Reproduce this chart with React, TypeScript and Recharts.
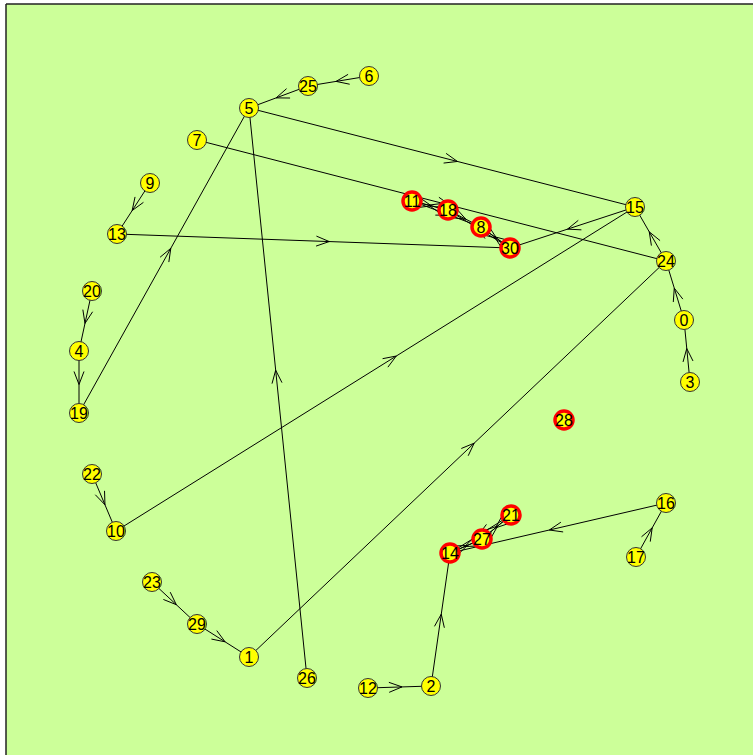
import { CartesianGrid, ReferenceLine, Scatter, ScatterChart, XAxis, YAxis } from "recharts";

// node layout, index = node id
const nodeX = [684, 249, 431, 690, 79, 249, 369, 197, 481, 150, 116, 412, 368, 117, 450, 635, 666, 636, 448, 79, 92, 511, 92, 152, 666, 308, 307, 482, 564, 197, 510];
const nodeY = [320, 657, 686, 382, 351, 108, 76, 140, 227, 183, 531, 201, 688, 234, 553, 207, 503, 557, 210, 413, 291, 515, 474, 582, 261, 86, 678, 539, 420, 624, 248];

// nodes that sit on a cycle (red ring)
const cycleNodes = [8, 11, 14, 18, 21, 27, 28, 30];

// directed edges
const edgeFrom = [6, 25, 5, 7, 9, 13, 20, 4, 19, 22, 10, 23, 29, 1, 26, 12, 2, 16, 17, 3, 0, 24, 15, 18, 11, 11, 18, 8, 30, 30, 14, 27, 27, 21, 21];
const edgeTo = [25, 5, 15, 24, 13, 30, 4, 19, 5, 10, 15, 29, 1, 24, 5, 2, 14, 14, 16, 0, 24, 15, 30, 11, 18, 8, 8, 30, 8, 18, 27, 14, 21, 27, 14];

const nodes = nodeX.map((x, i) => ({
  id: i,
  x,
  y: nodeY[i],
  cycle: cycleNodes.includes(i),
}));

function EdgeLine(props: any) {
  const pts = props.points;
  if (!pts || pts.length < 2) return null;
  const a = pts[0];
  const b = pts[1];
  const dx = b.x - a.x;
  const dy = b.y - a.y;
  const len = Math.hypot(dx, dy) || 1;
  const ux = dx / len;
  const uy = dy / len;
  const tx = a.x + dx * 0.54;
  const ty = a.y + dy * 0.54;
  const L = 13;
  const W = 5;
  const bx = tx - ux * L;
  const by = ty - uy * L;
  const d =
    `M${a.x},${a.y}L${b.x},${b.y}` +
    `M${bx - uy * W},${by + ux * W}L${tx},${ty}L${bx + uy * W},${by - ux * W}`;
  return <path d={d} fill="none" stroke="#000" strokeWidth={1} />;
}

function NodeShape(props: any) {
  const { cx, cy, payload } = props;
  const red = payload.cycle;
  return (
    <g>
      <circle
        cx={cx}
        cy={cy}
        r={red ? 9 : 9.5}
        fill="#ffff00"
        stroke={red ? "#ff0000" : "#333333"}
        strokeWidth={red ? 3.5 : 1}
      />
      <text
        x={cx}
        y={cy + 5.5}
        textAnchor="middle"
        fontSize={16}
        fontFamily="Liberation Sans, Arial, sans-serif"
        fill="#000"
      >
        {payload.id}
      </text>
    </g>
  );
}

export default function App() {
  return (
    <div
      style={{
        position: "fixed",
        left: 0,
        top: 0,
        width: 753,
        height: 755,
        overflow: "hidden",
        background: "#fff",
      }}
    >
      <ScatterChart
        width={760}
        height={762}
        margin={{ top: 4, left: 6, right: 0, bottom: 0 }}
      >
        <CartesianGrid fill="#ccff99" horizontal={false} vertical={false} />
        <XAxis type="number" dataKey="x" domain={[6, 760]} hide />
        <YAxis type="number" dataKey="y" domain={[4, 762]} reversed hide />
        <ReferenceLine x={6} stroke="#222" strokeWidth={1.5} />
        <ReferenceLine y={4} stroke="#222" strokeWidth={1.5} />
        {edgeFrom.map((s, i) => (
          <Scatter
            key={`e${i}`}
            data={[
              { x: nodeX[s], y: nodeY[s] },
              { x: nodeX[edgeTo[i]], y: nodeY[edgeTo[i]] },
            ]}
            line={EdgeLine}
            lineType="joint"
            shape={() => <g />}
            isAnimationActive={false}
          />
        ))}
        <Scatter data={nodes} shape={NodeShape} isAnimationActive={false} />
      </ScatterChart>
    </div>
  );
}
